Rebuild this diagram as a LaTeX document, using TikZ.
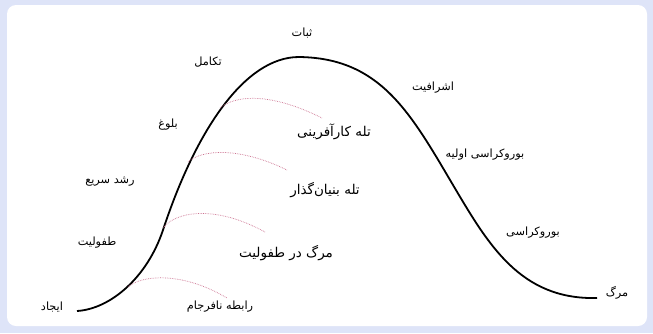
\documentclass[tikz,border=0pt]{standalone}
\usepackage{fontspec}
\newfontfamily\fa[Script=Arabic]{DejaVu Sans}
\TeXXeTstate=1
\definecolor{outerbg}{RGB}{222,228,248}
\definecolor{trap}{RGB}{205,115,145}
\tikzset{
  lbl/.style={font=\fa\fontsize{11.3}{12}\selectfont, inner sep=1pt},
  big/.style={font=\fa\fontsize{13.5}{15}\selectfont, inner sep=1pt},
  life/.style={line width=1.8pt, black},
  trapline/.style={trap, line width=0.7pt, densely dotted}
}
\newcommand{\rt}[1]{\beginR #1\endR}
\begin{document}
\begin{tikzpicture}[x=1pt,y=-1pt]
\fill[outerbg] (0,0) rectangle (653,333);
\useasboundingbox (0,0) rectangle (653,333);
\fill[white, rounded corners=9pt] (7,5) rectangle (647,326);
% life cycle curve
\coordinate (start) at (77,311);
\coordinate (up) at (163,230);
\coordinate (peak) at (299,57);
\coordinate (down) at (453,185);
\coordinate (finish) at (597,298);
\draw[life] (start) .. controls (110,309) and (147,278) .. (up)
  .. controls (196,130) and (245,57) .. (peak)
  .. controls (380,58) and (410,112) .. (down)
  .. controls (488,244) and (520,300) .. (finish);
% traps
\draw[trapline] (220,108) .. controls (234,96) and (268,91) .. (322,118);
\draw[trapline] (188,162) .. controls (201,150) and (238,146) .. (287,170);
\draw[trapline] (163,228) .. controls (175,212) and (214,204) .. (265,232);
\draw[trapline] (128,287) .. controls (140,276) and (180,270) .. (227,298);
% labels
\node[lbl] (sobat) at (302,33) {\rt{ثبات}};
\node[lbl] (takamol) at (208,62) {\rt{تکامل}};
\node[lbl] (bolugh) at (168,125) {\rt{بلوغ}};
\node[lbl] (roshd) at (110,182) {\rt{رشد سریع}};
\node[lbl] (tofuliat) at (97,243) {\rt{طفولیت}};
\node[lbl] (ijad) at (52,307) {\rt{ایجاد}};
\node[lbl] (ashrafiat) at (433,88) {\rt{اشرافیت}};
\node[lbl] (burooav) at (485,155) {\rt{بوروکراسی اولیه}};
\node[lbl] (buroo) at (533,233) {\rt{بوروکراسی}};
\node[lbl] (marg) at (617,293) {\rt{مرگ}};
\node[lbl] (rabete) at (220,307) {\rt{رابطه نافرجام}};
\node[big] (karafarini) at (334,132) {\rt{تله کارآفرینی}};
\node[big] (bonyan) at (325,190) {\rt{تله بنیان‌گذار}};
\node[big] (margtof) at (286,253) {\rt{مرگ در طفولیت}};
\end{tikzpicture}
\end{document}
